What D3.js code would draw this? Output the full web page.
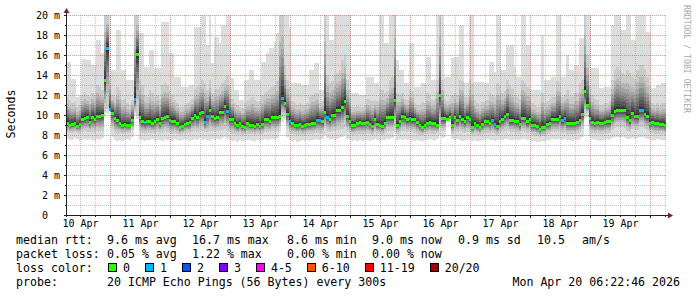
<!DOCTYPE html>
<html>
<head>
<meta charset="utf-8">
<script src="https://cdn.jsdelivr.net/npm/d3@7"></script>
<style>
    html, body { margin: 0; padding: 0; background: #fff; }
    svg { display: block; }
    text { font-family: "DejaVu Sans Mono", monospace; fill: #000; }
</style>
</head>
<body>
<svg id="chart" width="697" height="297"></svg>
<script>
// one column per hour, 240 hours ending Mon Apr 20 06:22:46 2026
const startTime = Date.UTC(2026, 3, 10, 6, 22, 46);
const endTime = Date.UTC(2026, 3, 20, 6, 22, 46);

// median rtt per hour (ms)
const medianRtt = [
    9.2, 9.0, 9.1, 9.2, 8.9, 9.1, 9.6, 9.7, 9.8, 9.3,
    9.8, 9.6, 9.9, 9.9, 10.0, 13.5, 16.7, 10.6, 10.2, 9.7,
    9.5, 9.2, 9.0, 9.1, 9.0, 9.0, 9.5, 11.6, 16.1, 9.8,
    9.4, 9.3, 9.4, 9.4, 9.2, 9.4, 9.6, 9.2, 9.7, 9.8,
    9.9, 9.5, 9.4, 9.4, 9.2, 8.8, 8.9, 9.1, 9.2, 9.3,
    9.7, 10.0, 9.8, 10.2, 10.3, 9.3, 9.9, 10.5, 9.9, 9.7,
    9.8, 10.3, 10.3, 10.9, 10.4, 9.6, 9.6, 9.2, 9.0, 9.2,
    8.9, 8.8, 9.2, 9.0, 9.0, 8.9, 9.1, 8.9, 9.1, 9.6,
    9.6, 9.4, 9.8, 9.8, 9.8, 9.9, 11.7, 11.2, 10.1, 9.4,
    9.2, 9.0, 9.0, 9.1, 8.9, 9.0, 9.1, 9.1, 9.2, 9.2,
    9.5, 9.5, 9.4, 10.3, 9.8, 9.6, 10.0, 10.0, 10.5, 10.5,
    10.8, 11.4, 9.9, 9.4, 9.0, 9.0, 9.2, 9.3, 9.2, 9.2,
    9.3, 9.1, 8.9, 9.6, 9.1, 9.0, 8.9, 9.2, 9.8, 9.8,
    9.8, 11.5, 9.0, 9.4, 9.9, 9.8, 9.6, 9.7, 9.6, 9.6,
    9.3, 9.0, 8.8, 9.0, 9.2, 9.3, 9.2, 9.2, 9.0, 12.0,
    9.7, 9.7, 9.6, 9.8, 9.0, 9.8, 9.5, 9.9, 9.6, 9.4,
    9.8, 9.6, 8.8, 9.2, 9.0, 8.8, 9.1, 9.4, 9.4, 9.2,
    9.5, 9.1, 8.9, 9.4, 9.6, 9.9, 10.1, 9.5, 9.5, 9.4,
    9.4, 9.1, 9.7, 9.7, 9.4, 9.6, 9.0, 9.0, 8.9, 8.6,
    8.8, 8.8, 9.1, 9.2, 9.6, 9.6, 9.6, 9.9, 9.5, 9.7,
    9.2, 9.2, 9.2, 9.2, 9.3, 9.5, 10.1, 12.4, 11.0, 9.7,
    9.3, 9.2, 9.3, 9.2, 9.2, 9.3, 9.4, 9.4, 10.0, 10.4,
    10.5, 10.5, 10.5, 10.5, 9.8, 9.5, 10.2, 9.9, 9.9, 10.5,
    10.5, 10.1, 9.9, 9.2, 9.3, 9.2, 9.2, 9.1, 9.1, 9.0
];

// hours with one lost ping
const lossHours = [16, 17, 27, 31, 55, 56, 64, 86, 89, 100, 101, 104, 137, 170, 171, 198, 199, 229, 230];

// fastest ping per hour (ms)
const minRtt = [
    7.6, 7.5, 7.5, 7.7, 7.6, 7.4, 7.5, 7.6, 7.5, 7.6,
    7.5, 7.4, 7.6, 7.5, 7.7, 9.9, 10.2, 10.3, 7.8, 7.5,
    7.4, 7.5, 7.4, 7.5, 7.6, 7.5, 7.8, 10.0, 9.6, 7.6,
    7.5, 7.4, 7.5, 7.5, 7.6, 7.4, 7.5, 7.5, 7.4, 7.6,
    7.5, 7.5, 7.4, 7.6, 7.5, 7.4, 7.5, 7.6, 7.5, 7.4,
    7.5, 7.6, 7.5, 7.7, 7.5, 7.6, 7.5, 7.4, 7.6, 7.5,
    7.6, 7.5, 7.7, 7.8, 7.6, 7.5, 7.4, 7.5, 7.3, 7.5,
    7.4, 7.4, 7.5, 7.5, 7.4, 7.4, 7.5, 7.4, 7.5, 7.6,
    7.5, 7.6, 7.6, 7.5, 7.7, 8.2, 9.3, 9.5, 7.8, 7.5,
    7.4, 7.5, 7.3, 7.4, 7.5, 7.4, 7.5, 7.4, 7.5, 7.6,
    7.5, 7.5, 7.6, 8.0, 7.7, 7.5, 7.6, 7.5, 7.6, 7.7,
    7.8, 8.0, 7.6, 7.5, 7.4, 7.5, 7.4, 7.5, 7.4, 7.5,
    7.5, 7.4, 7.5, 7.6, 7.5, 7.4, 7.5, 7.5, 7.6, 7.6,
    7.7, 8.2, 7.5, 7.6, 7.5, 7.6, 7.5, 7.6, 7.5, 7.4,
    7.5, 7.4, 7.4, 7.5, 7.5, 7.6, 7.5, 7.4, 7.6, 8.0,
    7.7, 7.8, 9.4, 9.5, 7.6, 7.5, 7.6, 7.5, 7.4, 7.5,
    7.5, 7.6, 7.4, 7.5, 7.4, 7.4, 7.5, 7.5, 7.6, 7.5,
    7.5, 7.4, 7.5, 7.6, 7.5, 7.6, 7.6, 7.5, 7.5, 7.6,
    7.5, 7.5, 7.6, 7.6, 7.5, 7.5, 7.4, 7.4, 7.3, 7.3,
    7.4, 7.4, 7.5, 7.5, 7.6, 7.5, 7.6, 7.6, 7.5, 7.6,
    7.5, 7.5, 7.4, 7.5, 7.5, 7.6, 7.8, 9.6, 9.8, 7.8,
    7.6, 7.5, 7.5, 7.4, 7.5, 7.5, 7.6, 7.5, 7.7, 7.8,
    7.8, 7.7, 7.8, 7.7, 7.6, 7.6, 7.7, 7.6, 7.7, 7.8,
    7.8, 7.7, 7.6, 7.5, 7.5, 7.5, 7.6, 7.5, 7.5, 7.5
];

// lower edge of the dense part of the smoke (ms)
const lowRtt = [
    8.3, 8.2, 8.2, 8.3, 8.2, 8.1, 8.3, 8.4, 8.3, 8.3,
    8.3, 8.2, 8.4, 8.3, 8.4, 10.3, 10.6, 10.4, 8.6, 8.2,
    8.1, 8.2, 8.1, 8.2, 8.2, 8.2, 8.5, 10.3, 10.0, 8.4,
    8.2, 8.1, 8.2, 8.2, 8.2, 8.1, 8.3, 8.2, 8.2, 8.4,
    8.3, 8.2, 8.1, 8.2, 8.1, 8.0, 8.1, 8.2, 8.2, 8.1,
    8.3, 8.4, 8.3, 8.5, 8.4, 8.3, 8.3, 8.4, 8.4, 8.3,
    8.4, 8.4, 8.5, 8.6, 8.4, 8.3, 8.1, 8.1, 8.0, 8.1,
    8.0, 8.0, 8.1, 8.1, 8.1, 8.0, 8.1, 8.0, 8.1, 8.3,
    8.3, 8.3, 8.4, 8.3, 8.4, 8.8, 9.8, 9.9, 8.6, 8.2,
    8.1, 8.1, 8.0, 8.1, 8.0, 8.0, 8.1, 8.1, 8.1, 8.2,
    8.2, 8.2, 8.2, 8.7, 8.4, 8.3, 8.4, 8.4, 8.5, 8.5,
    8.6, 8.8, 8.4, 8.2, 8.0, 8.1, 8.1, 8.1, 8.1, 8.1,
    8.2, 8.1, 8.0, 8.3, 8.1, 8.1, 8.0, 8.2, 8.4, 8.4,
    8.4, 8.9, 8.1, 8.2, 8.4, 8.4, 8.3, 8.3, 8.3, 8.2,
    8.1, 8.0, 8.0, 8.1, 8.1, 8.2, 8.1, 8.1, 8.2, 8.8,
    8.4, 8.5, 9.6, 9.7, 8.1, 8.4, 8.3, 8.4, 8.3, 8.2,
    8.3, 8.3, 8.0, 8.1, 8.0, 8.0, 8.1, 8.2, 8.2, 8.1,
    8.2, 8.1, 8.0, 8.2, 8.3, 8.4, 8.5, 8.3, 8.3, 8.3,
    8.2, 8.1, 8.4, 8.3, 8.2, 8.3, 8.0, 8.0, 7.9, 7.8,
    7.9, 7.9, 8.1, 8.1, 8.3, 8.3, 8.3, 8.4, 8.2, 8.3,
    8.1, 8.1, 8.1, 8.1, 8.2, 8.3, 8.6, 10.0, 10.2, 8.5,
    8.2, 8.1, 8.2, 8.1, 8.1, 8.2, 8.2, 8.2, 8.5, 8.7,
    8.8, 8.8, 8.8, 8.7, 8.4, 8.3, 8.6, 8.5, 8.5, 8.8,
    8.8, 8.6, 8.5, 8.2, 8.2, 8.1, 8.1, 8.1, 8.1, 8.0
];

// upper edge of the dense part of the smoke (ms)
const upperRtt = [
    11.8, 11.5, 11.2, 11.3, 10.8, 11.0, 12.0, 12.3, 12.0, 11.8,
    12.2, 12.0, 13.0, 12.8, 12.5, 20, 20, 14.0, 12.0, 11.8,
    12.8, 12.5, 11.5, 11.6, 11.2, 11.0, 11.5, 20, 20, 13.5,
    13.0, 12.0, 11.8, 12.5, 12.2, 11.8, 12.0, 11.6, 13.0, 13.2,
    13.0, 12.4, 12.0, 11.5, 11.2, 10.8, 10.8, 11.0, 11.2, 11.3,
    11.6, 12.6, 12.8, 13.0, 13.5, 13.2, 12.5, 13.5, 12.2, 12.5,
    12.6, 12.8, 13.2, 13.5, 14.0, 13.0, 11.6, 11.2, 11.0, 10.8,
    10.7, 11.2, 11.4, 11.6, 11.8, 11.5, 11.3, 11.4, 12.0, 12.2,
    12.4, 12.6, 12.8, 13.0, 13.4, 20, 20, 15.0, 13.5, 12.8,
    11.4, 11.2, 11.0, 11.2, 11.0, 11.0, 11.2, 11.8, 12.0, 12.2,
    12.2, 11.2, 11.4, 20, 14.0, 13.2, 13.4, 14.0, 14.2, 14.5,
    15.5, 16.0, 13.5, 12.5, 10.8, 10.8, 10.9, 10.8, 10.8, 11.0,
    11.6, 11.5, 11.4, 11.5, 11.4, 12.6, 12.5, 12.2, 12.4, 13.5,
    13.8, 20, 12.2, 12.0, 12.2, 11.6, 11.5, 12.6, 12.4, 11.2,
    11.0, 11.0, 11.3, 11.2, 12.2, 12.0, 11.5, 11.6, 13.5, 20,
    13.5, 11.6, 11.4, 11.6, 12.0, 12.2, 12.0, 13.5, 13.4, 11.8,
    11.8, 13.5, 13.2, 11.5, 11.2, 11.0, 11.3, 11.4, 11.5, 12.2,
    12.0, 11.8, 13.2, 13.0, 12.2, 12.4, 13.5, 13.0, 12.6, 12.0,
    11.8, 11.6, 13.5, 13.2, 12.8, 12.6, 11.2, 11.0, 10.8, 10.8,
    12.2, 11.2, 11.4, 11.6, 11.8, 11.8, 13.4, 13.2, 11.8, 12.0,
    12.5, 11.8, 11.8, 12.2, 12.2, 13.2, 13.5, 20, 16.0, 13.0,
    12.0, 11.6, 11.5, 11.0, 11.0, 11.2, 11.2, 11.4, 13.5, 14.5,
    14.8, 14.5, 14.2, 14.0, 14.5, 14.2, 13.8, 13.6, 14.5, 15.0,
    15.0, 14.6, 13.8, 13.0, 11.2, 11.0, 11.2, 11.0, 11.2, 11.2
];

// slowest ping per hour (ms), 20 means off the top
const maxRtt = [
    15.3, 15.3, 13.6, 13.6, 11.8, 12.0, 15.6, 15.6, 15.5, 15.5,
    15.0, 15.0, 17.5, 17.5, 16.2, 20, 20, 20, 14.5, 14.5,
    18.5, 18.5, 14.5, 14.5, 13.5, 13.5, 13.5, 20, 20, 18.2,
    18.2, 14.8, 14.8, 16.5, 16.5, 14.7, 14.7, 14.7, 19.3, 19.3,
    19.3, 16.2, 16.2, 13.8, 13.8, 13.8, 12.8, 12.8, 12.8, 13.0,
    13.0, 18.8, 18.8, 18.8, 20, 20, 17.0, 20, 15.2, 17.8,
    17.8, 17.2, 19.0, 19.0, 20, 20, 13.7, 12.5, 12.5, 11.5,
    11.5, 13.5, 13.5, 14.5, 14.5, 13.5, 13.5, 13.5, 15.3, 15.3,
    16.2, 16.7, 16.7, 17.3, 18.2, 20, 20, 20, 20, 18.8,
    13.2, 13.2, 13.2, 13.2, 13.0, 13.0, 13.0, 14.5, 14.5, 15.2,
    15.2, 12.5, 12.5, 20, 20, 17.5, 17.5, 20, 20, 20,
    20, 20, 20, 20, 12.2, 12.2, 12.2, 12.0, 12.0, 12.0,
    13.8, 13.8, 13.8, 13.2, 13.2, 20, 20, 17.2, 17.2, 20,
    20, 20, 15.5, 14.5, 14.5, 13.2, 13.2, 17.2, 17.2, 12.8,
    12.8, 12.8, 13.2, 13.2, 15.8, 15.8, 13.5, 13.5, 20, 20,
    20, 13.8, 13.8, 13.8, 15.7, 15.8, 15.8, 19.0, 19.0, 13.2,
    13.2, 20, 20, 13.3, 13.3, 13.3, 13.3, 13.2, 13.2, 15.3,
    15.3, 14.3, 20, 20, 14.5, 14.5, 17.0, 17.0, 17.0, 14.8,
    13.8, 13.8, 20, 20, 17.0, 17.0, 12.5, 12.5, 12.5, 12.5,
    18.0, 13.5, 13.5, 13.5, 13.8, 13.8, 20, 20, 13.8, 13.8,
    16.0, 14.5, 14.5, 15.0, 15.0, 17.7, 17.7, 20, 20, 20,
    14.7, 14.7, 14.7, 12.7, 12.7, 12.8, 12.8, 12.8, 19.0, 20,
    20, 20, 18.5, 18.5, 20, 20, 17.5, 17.5, 20, 20,
    20, 20, 18.3, 18.3, 12.7, 12.7, 13.0, 13.0, 13.2, 13.2
];

const yTicks = [0, 2, 4, 6, 8, 10, 12, 14, 16, 18, 20];

const rttStats = ["9.6 ms avg", "16.7 ms max", "8.6 ms min", "9.0 ms now", "0.9 ms sd", "10.5", "am/s"];
const lossStats = ["0.05 % avg", "1.22 % max", "0.00 % min", "0.00 % now"];
const lossLabels = ["0", "1", "2", "3", "4-5", "6-10", "11-19", "20/20"];
const lossColors = ["#26ff00", "#00b8ff", "#0059ff", "#7e00ff", "#ff00ff", "#ff5500", "#ff0000", "#a10000"];
const probeText = "20 ICMP Echo Pings (56 Bytes) every 300s";
const stampText = "Mon Apr 20 06:22:46 2026";

const svg = d3.select('#chart');
const plotLeft = 66, plotRight = 666, plotTop = 15, plotBottom = 215;
const hour = 3600 * 1000;

let x = d3.scaleUtc()
    .domain([new Date(startTime), new Date(endTime)])
    .range([plotLeft, plotRight]);
let y = d3.scaleLinear()
    .domain([0, 20])
    .range([plotBottom, plotTop]);

let columns = medianRtt.map((m, i) => ({
    t0: new Date(startTime + i * hour),
    t1: new Date(startTime + (i + 1) * hour),
    med: m,
    min: minRtt[i],
    low: lowRtt[i],
    up: upperRtt[i],
    max: maxRtt[i],
    loss: lossHours.includes(i) ? 1 : 0
}));

svg.append('defs').append('clipPath').attr('id', 'plotclip')
    .append('rect')
    .attr('x', plotLeft).attr('y', plotTop)
    .attr('width', plotRight - plotLeft).attr('height', plotBottom - plotTop);

let plot = svg.append('g').attr('clip-path', 'url(#plotclip)');

// smoke: 10 nested bands, light outside to dark at the median
const bands = 10;
for (let k = 0; k < bands; k++) {
    let level = Math.round(190 / bands * (bands - k - 1)) + 50;
    let f = k == 0 ? 0 : Math.pow((k - 1) / (bands - 1), 0.6);
    let edges = d => {
        if (k == 0) return [d.min, d.max];
        return [d.low + (d.med - d.low) * f, d.up + (d.med - d.up) * f];
    };
    plot.append('g')
        .attr('fill', d3.rgb(level, level, level))
        .attr('shape-rendering', 'crispEdges')
        .selectAll('rect')
        .data(columns)
        .join('rect')
        .attr('x', d => x(d.t0))
        .attr('width', d => x(d.t1) - x(d.t0))
        .attr('y', d => y(Math.min(edges(d)[1], 21)))
        .attr('height', d => Math.max(0, y(edges(d)[0]) - y(Math.min(edges(d)[1], 21))));
}

// median markers coloured by loss
plot.append('g')
    .attr('shape-rendering', 'crispEdges')
    .selectAll('rect')
    .data(columns)
    .join('rect')
    .attr('x', d => x(d.t0))
    .attr('width', d => x(d.t1) - x(d.t0))
    .attr('y', d => y(d.med) - 1.5)
    .attr('height', 3)
    .attr('fill', d => lossColors[d.loss]);

// grid on top
let grid = svg.append('g')
    .attr('shape-rendering', 'crispEdges')
    .attr('stroke-dasharray', '1,1')
    .attr('stroke-width', 1);

let minorY = d3.range(1, 21).filter(v => v % 2 != 0);
let majorY = yTicks.filter(v => v > 0);
grid.selectAll('.hminor').data(minorY).join('line')
    .attr('x1', plotLeft).attr('x2', plotRight)
    .attr('y1', d => Math.round(y(d)) + 0.5).attr('y2', d => Math.round(y(d)) + 0.5)
    .attr('stroke', 'rgba(128,128,128,0.45)');
grid.selectAll('.hmajor').data(majorY).join('line')
    .attr('x1', plotLeft).attr('x2', plotRight)
    .attr('y1', d => Math.round(y(d)) + 0.5).attr('y2', d => Math.round(y(d)) + 0.5)
    .attr('stroke', 'rgba(222,70,70,0.55)');

let sixHours = d3.utcHour.every(6).range(new Date(startTime), new Date(endTime));
grid.selectAll('.vgrid').data(sixHours).join('line')
    .attr('x1', d => Math.round(x(d)) + 0.5).attr('x2', d => Math.round(x(d)) + 0.5)
    .attr('y1', plotTop).attr('y2', plotBottom)
    .attr('stroke', d => d.getUTCHours() == 0 ? 'rgba(222,70,70,0.55)' : 'rgba(128,128,128,0.45)');

// axes labels
let yAxis = svg.append('g')
    .attr('transform', `translate(${plotLeft},0)`)
    .call(d3.axisLeft(y)
        .tickValues(yTicks)
        .tickSize(0)
        .tickPadding(6)
        .tickFormat(d => d == 0 ? '0\u00a0\u00a0' : d + ' m'));
yAxis.select('.domain').remove();
yAxis.selectAll('text').style('font-size', '10px').attr('fill', '#000');

let noons = d3.utcDay.range(new Date(startTime), new Date(endTime))
    .map(d => d3.utcHour.offset(d, -12))
    .filter(d => d >= startTime);
let xAxis = svg.append('g')
    .attr('transform', `translate(0,${plotBottom})`)
    .call(d3.axisBottom(x)
        .tickValues(noons)
        .tickSize(0)
        .tickPadding(5)
        .tickFormat(d3.utcFormat('%d %b')));
xAxis.select('.domain').remove();
xAxis.selectAll('text').style('font-size', '10px').attr('fill', '#000');

// axis lines and tick marks
let axis = svg.append('g').attr('shape-rendering', 'crispEdges').attr('stroke', '#1f1f1f');
axis.append('line').attr('x1', plotLeft + 0.5).attr('x2', plotLeft + 0.5).attr('y1', plotBottom + 2).attr('y2', plotTop - 3);
axis.append('line').attr('x1', plotLeft - 2).attr('x2', plotRight + 4).attr('y1', plotBottom + 0.5).attr('y2', plotBottom + 0.5);
axis.selectAll('.yt').data(d3.range(0, 21)).join('line')
    .attr('x1', d => d % 2 == 0 ? plotLeft - 2 : plotLeft - 1).attr('x2', plotLeft)
    .attr('y1', d => Math.round(y(d)) + 0.5).attr('y2', d => Math.round(y(d)) + 0.5);
axis.selectAll('.xt').data(sixHours).join('line')
    .attr('x1', d => Math.round(x(d)) + 0.5).attr('x2', d => Math.round(x(d)) + 0.5)
    .attr('y1', plotBottom + 1).attr('y2', d => d.getUTCHours() == 0 ? plotBottom + 3 : plotBottom + 2);

svg.append('path')
    .attr('d', `M${plotLeft - 2.5},13 L${plotLeft + 3.5},13 L${plotLeft + 0.5},8 Z`)
    .attr('fill', '#801f1f');
svg.append('path')
    .attr('d', `M668,212.5 L668,218.5 L673,215.5 Z`)
    .attr('fill', '#801f1f');

// titles
svg.append('text')
    .attr('transform', 'translate(15,114) rotate(-90)')
    .attr('text-anchor', 'middle')
    .style('font-size', '11.6px')
    .text('Seconds');

svg.append('text')
    .attr('transform', 'translate(684,5) rotate(90)')
    .style('font-size', '9.5px')
    .attr('textLength', 108)
    .attr('lengthAdjust', 'spacingAndGlyphs')
    .style('fill', '#a8a8a8')
    .text('RRDTOOL / TOBI OETIKER');

// legend
const legendX = 16;
const statCols = [107, 192, 287, 372, 458, 537, 582];
const rows = [244, 258, 272, 286];
const charW = 6.98;
let legend = svg.append('g').style('font-size', '11.6px').attr('xml:space', 'preserve');

legend.append('text').attr('x', legendX).attr('y', rows[0]).text('median rtt:');
rttStats.forEach((s, i) => legend.append('text').attr('x', statCols[i]).attr('y', rows[0]).text(s));

legend.append('text').attr('x', legendX).attr('y', rows[1]).text('packet loss:');
lossStats.forEach((s, i) => legend.append('text').attr('x', statCols[i]).attr('y', rows[1]).text(s));

legend.append('text').attr('x', legendX).attr('y', rows[2]).text('loss color:');
let bx = 108;
lossLabels.forEach((s, i) => {
    legend.append('rect')
        .attr('x', bx + 0.5).attr('y', rows[2] - 8.5)
        .attr('width', 8).attr('height', 8)
        .attr('fill', lossColors[i])
        .attr('stroke', '#000')
        .attr('shape-rendering', 'crispEdges');
    legend.append('text').attr('x', bx + 15).attr('y', rows[2]).text(s);
    bx = bx + 15 + s.length * charW + 15;
});

legend.append('text').attr('x', legendX).attr('y', rows[3]).text('probe:');
legend.append('text').attr('x', statCols[0]).attr('y', rows[3]).text(probeText);
legend.append('text').attr('x', 680).attr('y', rows[3]).attr('text-anchor', 'end').text(stampText);
</script>
</body>
</html>
